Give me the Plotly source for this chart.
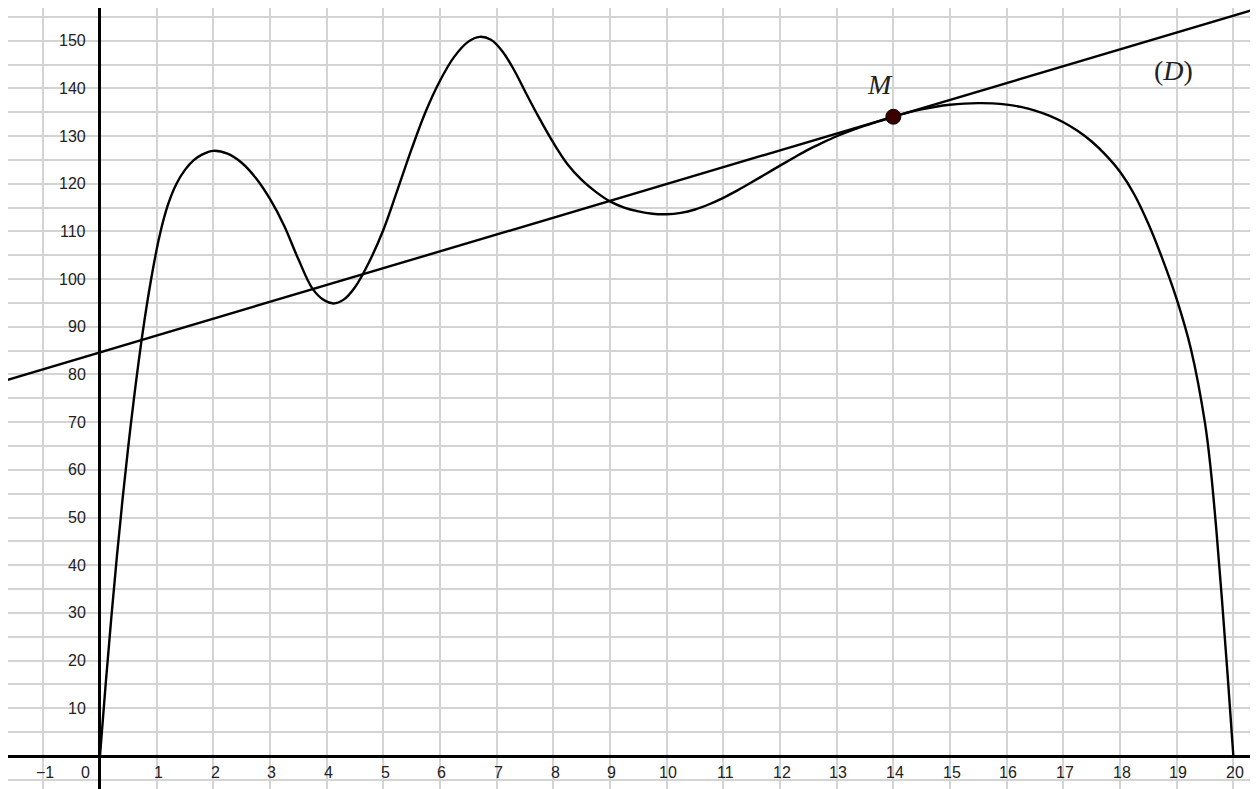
import plotly.graph_objects as go

# Curve f
curve_x = [0.0, 0.1, 0.2, 0.3, 0.4, 0.5, 0.6, 0.75, 0.9, 1.05, 1.2, 1.35, 1.5, 1.65, 1.8, 2.0,
           2.25, 2.5, 2.75, 3.0, 3.25, 3.5, 3.75, 3.95, 4.12, 4.3, 4.5, 4.75, 5.0, 5.25, 5.5,
           5.75, 6.0, 6.25, 6.5, 6.7, 6.9, 7.1, 7.3, 7.5, 7.75, 8.0, 8.25, 8.5, 8.75, 9.0, 9.25,
           9.5, 9.75, 10.0, 10.25, 10.5, 10.75, 11.0, 11.25, 11.5, 11.75, 12.0, 12.25, 12.5,
           12.75, 13.0, 13.25, 13.5, 13.75, 14.0, 14.25, 14.5, 14.75, 15.0, 15.25, 15.5, 15.75,
           16.0, 16.25, 16.5, 16.75, 17.0, 17.25, 17.5, 17.75, 18.0, 18.25, 18.5, 18.75, 19.0,
           19.25, 19.5, 19.6, 19.7, 19.8, 19.9, 20.0]
curve_y = [0.0, 15.0, 29.0, 42.0, 54.0, 65.0, 75.0, 88.5, 99.8, 109.0, 115.6, 120.0, 122.9, 124.9,
           126.1, 126.9, 126.3, 124.4, 121.2, 116.8, 111.2, 104.2, 98.0, 95.6, 94.9, 95.7, 98.3,
           103.6, 110.3, 118.7, 127.3, 135.2, 141.6, 146.6, 149.8, 150.8, 150.2, 147.8, 144.0,
           139.4, 133.8, 128.6, 124.1, 120.8, 118.3, 116.3, 115.0, 114.2, 113.7, 113.6, 113.9,
           114.6, 115.7, 117.05, 118.6, 120.3, 122.05, 123.8, 125.5, 127.16, 128.6, 129.96,
           131.13, 132.17, 133.12, 134.05, 134.9, 135.6, 136.15, 136.55, 136.8, 136.9, 136.85,
           136.6, 136.1, 135.35, 134.3, 132.9, 131.1, 128.85, 126.0, 122.5, 117.8, 111.6, 104.2,
           95.8, 85.4, 69.8, 60.2, 47.4, 32.6, 16.8, 0.0]

# Tangent line (D)
line_x = [-1.64, 20.44]
line_y = [78.86, 156.79]

# Point M
m_x = [14.0]
m_y = [134.05]

x_ticks = [-1, 0, 1, 2, 3, 4, 5, 6, 7, 8, 9, 10, 11, 12, 13, 14, 15, 16, 17, 18, 19, 20]
y_ticks = [10, 20, 30, 40, 50, 60, 70, 80, 90, 100, 110, 120, 130, 140, 150]

X_RANGE = [-1.623, 20.435]
Y_RANGE = [-6.92, 156.85]

fig = go.Figure()
fig.add_trace(go.Scatter(x=curve_x, y=curve_y, mode="lines",
                         line=dict(color="black", width=2.4, shape="spline", smoothing=1.0),
                         hoverinfo="skip", showlegend=False))
fig.add_trace(go.Scatter(x=line_x, y=line_y, mode="lines",
                         line=dict(color="black", width=2.4),
                         hoverinfo="skip", showlegend=False))
fig.add_trace(go.Scatter(x=m_x, y=m_y, mode="markers",
                         marker=dict(size=15, color="#3a0000", line=dict(color="black", width=1)),
                         hoverinfo="skip", showlegend=False))

font_tick = dict(family="Liberation Sans, Arial, sans-serif", size=16, color="#222")
ann = []
for v in x_ticks:
    label = "\u2212" + str(-v) if v < 0 else str(v)
    xpos = -0.26 if v == 0 else v + 0.03
    ann.append(dict(x=xpos, y=-3.5, text=label, showarrow=False, xanchor="center",
                    yanchor="middle", font=font_tick))
for v in y_ticks:
    ann.append(dict(x=-0.21, y=v, text=str(v), showarrow=False, xanchor="right",
                    yanchor="middle", font=font_tick))

serif = dict(family="Liberation Serif, DejaVu Serif, serif", size=28, color="#222")
ann.append(dict(x=13.76, y=140.8, text="<i>M</i>", showarrow=False, xanchor="center",
                yanchor="middle", font=serif))
ann.append(dict(x=18.94, y=143.8, text="(<i>D</i>)", showarrow=False, xanchor="center",
                yanchor="middle", font=serif))

# page body adds an 8px margin, so the figure is 8px smaller than the window
fig.update_layout(
    width=1250, height=781,
    margin=dict(l=0, r=0, t=0, b=0, pad=0),
    paper_bgcolor="white", plot_bgcolor="white",
    annotations=ann,
    xaxis=dict(range=X_RANGE, dtick=1, tick0=0, showgrid=True, gridcolor="#d4d4d4", gridwidth=2,
               zeroline=True, zerolinecolor="black", zerolinewidth=3, showticklabels=False,
               ticks="", showline=False, fixedrange=True),
    yaxis=dict(range=Y_RANGE, dtick=5, tick0=0, showgrid=True, gridcolor="#d4d4d4", gridwidth=2,
               zeroline=True, zerolinecolor="black", zerolinewidth=3, showticklabels=False,
               ticks="", showline=False, fixedrange=True),
)

fig.write_html("out.html", config={"displayModeBar": False})
